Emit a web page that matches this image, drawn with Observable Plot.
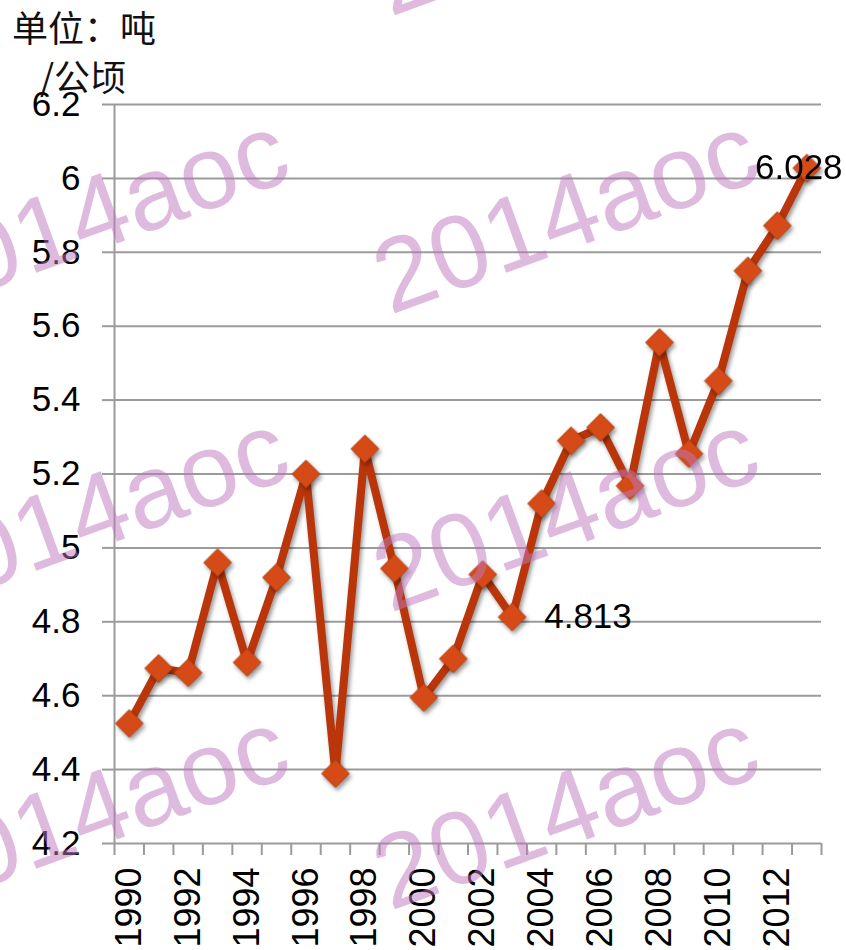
<!DOCTYPE html>
<html>
<head>
<meta charset="utf-8">
<script src="https://cdn.jsdelivr.net/npm/d3@7"></script>
<script src="https://cdn.jsdelivr.net/npm/@observablehq/plot@0.6"></script>
<style>
  html, body { margin: 0; padding: 0; background: #fff; }
  #wrap { position: relative; width: 846px; height: 950px; overflow: hidden; }
  .unit { position: absolute; font-family: "Noto Sans CJK SC", sans-serif; font-size: 36px; line-height: 40px; color: #111; white-space: nowrap; }
  #wm { position: absolute; left: 0; top: 0; pointer-events: none; }
</style>
</head>
<body>
<div id="wrap">
  <div id="chart"></div>
  <div class="unit" style="left:12px; top:6px;">单位：吨</div>
  <div class="unit" style="left:40px; top:55px;">/公顷</div>
</div>
<script>
// ---- data ----
const years = [1990,1991,1992,1993,1994,1995,1996,1997,1998,1999,2000,2001,
               2002,2003,2004,2005,2006,2007,2008,2009,2010,2011,2012,2013];
const yields = [4.525,4.674,4.662,4.96,4.69,4.92,5.2,4.389,5.268,4.944,4.595,4.70,
                4.928,4.813,5.12,5.29,5.326,5.168,5.556,5.255,5.452,5.75,5.872,6.028];
const yTicks = [4.2,4.4,4.6,4.8,5,5.2,5.4,5.6,5.8,6,6.2];
const xLabelYears = [1990,1992,1994,1996,1998,2000,2002,2004,2006,2008,2010,2012];
const labeledYears = [2003, 2013];
const watermarkText = "2014aoc";

const data = years.map((year, i) => ({year, value: yields[i]}));
// category boundaries (tick marks sit between years)
const boundaries = [years[0] - 0.5, ...years.map(y => y + 0.5)];

const gridColor = "#9b9b9b";
const lineColor = "#BA360A";
const dotFill = "#D64A18";
const shadow = "drop-shadow(2px 3px 2px rgba(0,0,0,0.4))";

const chart = Plot.plot({
  width: 846,
  height: 950,
  marginLeft: 114,
  marginRight: 25,
  marginTop: 104,
  marginBottom: 107,
  style: {fontFamily: "'Liberation Sans', Arial, sans-serif", background: "transparent", color: "#000"},
  x: {domain: [boundaries[0], boundaries[boundaries.length - 1]]},
  y: {domain: [yTicks[0], yTicks[yTicks.length - 1]]},
  marks: [
    Plot.gridY(yTicks, {stroke: gridColor, strokeOpacity: 1, strokeWidth: 2}),
    Plot.axisY(yTicks, {tickSize: 12, tickPadding: 22, fontSize: 35, stroke: gridColor, strokeWidth: 2, fill: "#000", tickFormat: d => String(d), label: null}),
    Plot.ruleX([boundaries[0]], {stroke: gridColor, strokeWidth: 2}),
    Plot.axisX(boundaries, {tickSize: 12, stroke: gridColor, strokeWidth: 2, tickFormat: () => "", label: null}),
    Plot.axisX(xLabelYears, {tickSize: 0, tickPadding: 24, tickRotate: -90, fontSize: 36, fill: "#000", tickFormat: d => String(d), label: null}),
    Plot.line(data, {x: "year", y: "value", stroke: lineColor, strokeWidth: 8, strokeLinejoin: "round", imageFilter: shadow}),
    Plot.dot(data, {x: "year", y: "value", symbol: "diamond2", r: 12.5, fill: dotFill, stroke: "#B3400F", strokeWidth: 1, imageFilter: shadow}),
    Plot.text(data.filter(d => d.year === labeledYears[0]), {x: "year", y: "value", text: d => String(d.value), textAnchor: "start", dx: 32, fontSize: 35, fill: "#000"}),
    Plot.text(data.filter(d => d.year === labeledYears[1]), {x: "year", y: "value", text: d => String(d.value), textAnchor: "middle", dx: -8, fontSize: 35, fill: "#000"})
  ]
});
document.getElementById("chart").appendChild(chart);

// ---- watermark overlay ----
const wm = d3.select("#wrap").append("svg")
  .attr("id", "wm").attr("width", 846).attr("height", 950);
const cols = [-80, 390];
const rows = [17, 315, 613, 911];
for (const cx of cols) for (const cy of rows) {
  wm.append("text")
    .attr("transform", `translate(${cx},${cy}) rotate(-20)`)
    .attr("font-family", "'Liberation Sans', Arial, sans-serif")
    .attr("font-size", 104)
    .attr("fill", "rgb(190,120,190)")
    .attr("fill-opacity", 0.5)
    .text(watermarkText);
}
</script>
</body>
</html>
